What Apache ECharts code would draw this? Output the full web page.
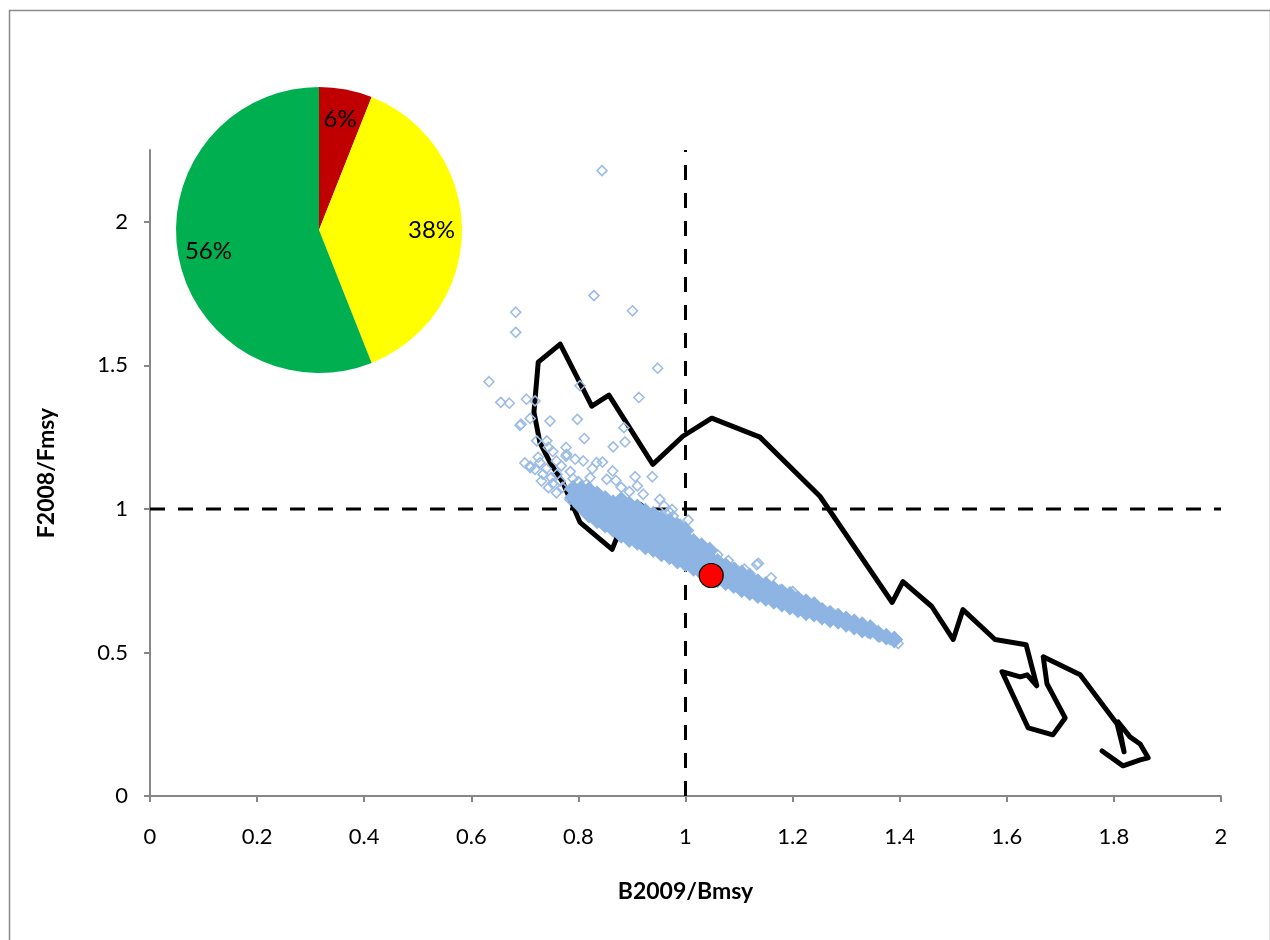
<!DOCTYPE html>
<html><head><meta charset="utf-8">
<script src="https://cdn.jsdelivr.net/npm/echarts@6/dist/echarts.min.js"></script>
<style>html,body{margin:0;padding:0;background:#fff}#c{width:1270px;height:940px}</style>
</head><body><div id="c"></div>
<script>
// ---- data ----
const yTickValues = [0, 0.5, 1, 1.5, 2];
const refLineH = [[0, 1], [2, 1]];
const refLineV = [[1, 0], [1, 2.25]];
const trajectory = [
  [1.778,0.157],[1.817,0.105],[1.849,0.126],[1.864,0.133],[1.849,0.181],[1.830,0.206],
  [1.808,0.258],[1.819,0.154],[1.806,0.251],[1.737,0.422],[1.668,0.485],[1.675,0.391],
  [1.709,0.272],[1.686,0.213],[1.640,0.237],[1.591,0.433],[1.625,0.415],[1.638,0.422],
  [1.656,0.384],[1.636,0.527],[1.578,0.545],[1.518,0.649],[1.500,0.545],[1.460,0.660],
  [1.406,0.747],[1.386,0.674],[1.251,1.044],[1.139,1.250],[1.049,1.316],[0.995,1.253],
  [0.939,1.155],[0.857,1.396],[0.825,1.358],[0.766,1.574],[0.725,1.511],[0.717,1.337],
  [0.728,1.232],[0.747,1.162],[0.771,1.092],[0.803,0.953],[0.863,0.859],[0.872,0.901],
  [0.893,1.005],[0.915,1.016],[0.943,0.974],[0.967,0.949],[1.003,0.887],[1.048,0.768]
];
const currentPoint = [[1.048, 0.768]];
// dense part of the simulation cloud: [x, [y values]]
const cloudCore = [
  [0.790,[1.04,1.07]],
  [0.805,[1.01,1.04,1.07]],
  [0.820,[0.98,1.01,1.04,1.065]],
  [0.835,[0.96,0.99,1.02,1.05]],
  [0.850,[0.945,0.975,1.005,1.035]],
  [0.865,[0.93,0.96,0.99,1.02]],
  [0.880,[0.91,0.94,0.97,1.00,1.03]],
  [0.895,[0.895,0.925,0.955,0.985,1.015]],
  [0.910,[0.885,0.915,0.945,0.975,1.005]],
  [0.925,[0.87,0.90,0.93,0.96,0.99]],
  [0.940,[0.86,0.89,0.92,0.95,0.98]],
  [0.955,[0.845,0.875,0.905,0.935,0.965]],
  [0.970,[0.835,0.865,0.895,0.925,0.955]],
  [0.985,[0.82,0.85,0.88,0.91,0.94]],
  [1.000,[0.81,0.84,0.87,0.90,0.925]],
  [1.015,[0.795,0.825,0.855,0.885]],
  [1.030,[0.78,0.81,0.84,0.87]],
  [1.045,[0.77,0.80,0.83,0.855]],
  [1.060,[0.755,0.785,0.815]],
  [1.075,[0.745,0.775,0.80]],
  [1.090,[0.735,0.76,0.785]],
  [1.105,[0.72,0.75,0.775]],
  [1.120,[0.71,0.735,0.76]],
  [1.135,[0.70,0.725,0.745]],
  [1.150,[0.69,0.715,0.735]],
  [1.165,[0.68,0.70,0.72]],
  [1.180,[0.67,0.69,0.71]],
  [1.195,[0.66,0.68,0.70]],
  [1.210,[0.65,0.67,0.685]],
  [1.225,[0.64,0.66,0.675]],
  [1.240,[0.635,0.65,0.665]],
  [1.255,[0.625,0.645]],
  [1.270,[0.615,0.635]],
  [1.285,[0.61,0.625]],
  [1.300,[0.60,0.615]],
  [1.315,[0.59,0.605]],
  [1.330,[0.58,0.595]],
  [1.345,[0.575,0.585]],
  [1.360,[0.565]],
  [1.375,[0.555]],
  [1.390,[0.545]]
];
// scattered simulation points
const cloudScatter = [
  [0.844,2.178],[0.829,1.743],[0.683,1.685],[0.901,1.690],[0.683,1.615],[0.948,1.490],
  [0.633,1.443],[0.655,1.371],[0.671,1.368],[0.703,1.382],[0.719,1.376],[0.803,1.429],
  [0.913,1.388],[0.693,1.295],[0.710,1.315],[0.747,1.306],[0.798,1.312],[0.885,1.283],
  [0.887,1.233],[0.722,1.237],[0.741,1.237],[0.811,1.245],[0.865,1.216],[0.777,1.214],
  [0.778,1.190],[0.710,1.149],[0.719,1.138],[0.728,1.161],[0.734,1.120],[0.731,1.097],
  [0.744,1.074],[0.749,1.109],[0.759,1.167],[0.794,1.173],[0.809,1.167],[0.834,1.161],
  [0.845,1.163],[0.906,1.112],[0.938,1.112],[0.864,1.132],[0.853,1.103],[0.870,1.099],
  [0.921,1.051],[1.005,0.961],[0.990,0.946],[1.024,0.876],[1.046,0.859],[1.080,0.820],
  [0.822,1.109],[0.766,1.097],[0.691,1.291],[0.744,1.214],[0.777,1.184],[0.710,1.144],
  [1.133,0.806],[1.092,0.795],[1.120,0.775],[1.136,0.810],[1.096,0.783],[1.176,0.717],
  [1.046,0.853],[1.021,0.876],[1.341,0.568],[1.363,0.554],[1.382,0.545],[1.397,0.531],
  [1.326,0.583],[1.298,0.597],[1.251,0.642],[0.759,1.056],[0.784,1.033],[0.952,1.033],
  [0.975,0.998],[0.971,0.987],[0.977,0.975],[0.770,1.075],[0.760,1.120],[0.785,1.130],
  [0.800,1.095],[0.815,1.085],[0.895,1.060],[0.960,1.010],[0.740,1.140],[0.752,1.088],
  [0.768,1.150],[0.790,1.105],[0.826,1.140],[0.880,1.075],[0.910,1.080],[0.700,1.160],
  [0.725,1.180],[0.752,1.200],[1.060,0.840],[1.110,0.790],[1.160,0.760],[1.200,0.712]
];
const pieNames = ['red', 'yellow', 'green'];
const pieValues = [6, 38, 56];
const pieColors = ['#C00000', '#FFFF00', '#00B050'];

// ---- build ----
const coreData = [];
cloudCore.forEach(c => c[1].forEach(y => coreData.push([c[0], y])));
const pieData = pieNames.map((n, i) => ({ name: n, value: pieValues[i], itemStyle: { color: pieColors[i] } }));
const pieLabelData = pieNames.map((n, i) => ({ name: n, value: pieValues[i] }));

const FONT = 'Lato';
const chart = echarts.init(document.getElementById('c'), null, { renderer: 'canvas' });
chart.setOption({
  animation: false,
  backgroundColor: '#fff',
  textStyle: { fontFamily: FONT },
  graphic: [{
    type: 'rect', left: 7, top: 8, z: -10,
    shape: { width: 1261, height: 931 },
    style: { fill: 'none', stroke: '#8a8a8a', lineWidth: 1.5 }
  }],
  grid: { left: 150, right: 49, top: 150, bottom: 144, containLabel: false },
  xAxis: {
    type: 'value', min: 0, max: 2, interval: 0.2,
    name: 'B2009/Bmsy', nameLocation: 'middle', nameGap: 84,
    nameTextStyle: { fontFamily: FONT, fontWeight: 'bold', fontSize: 23, color: '#000' },
    axisLine: { show: true, onZero: false, lineStyle: { color: '#868686', width: 2 } },
    axisTick: { show: true, inside: false, length: 6, lineStyle: { color: '#868686', width: 2 } },
    axisLabel: { fontFamily: FONT, fontSize: 22, color: '#000', margin: 30 },
    splitLine: { show: false }
  },
  yAxis: {
    type: 'value', min: 0, max: 2.25,
    name: 'F2008/Fmsy', nameLocation: 'middle', nameGap: 92, nameRotate: 90,
    nameTextStyle: { fontFamily: FONT, fontWeight: 'bold', fontSize: 23, color: '#000' },
    axisLine: { show: true, onZero: false, lineStyle: { color: '#868686', width: 2 } },
    axisTick: { show: true, inside: false, length: 6, customValues: yTickValues, lineStyle: { color: '#868686', width: 2 } },
    axisLabel: { fontFamily: FONT, fontSize: 22, color: '#000', margin: 22, customValues: yTickValues },
    splitLine: { show: false }
  },
  series: [
    { type: 'line', data: refLineH, symbol: 'none', silent: true, z: 1,
      lineStyle: { color: '#000', width: 3, type: [15, 13] } },
    { type: 'line', data: refLineV, symbol: 'none', silent: true, z: 1,
      lineStyle: { color: '#000', width: 3, type: [15, 13] } },
    { type: 'line', data: trajectory, symbol: 'none', silent: true, z: 2,
      lineStyle: { color: '#000', width: 5, join: 'round', cap: 'round' } },
    { type: 'scatter', data: cloudScatter, symbol: 'diamond', symbolSize: 10, z: 3, silent: true,
      itemStyle: { color: 'rgba(0,0,0,0)', borderColor: '#9CBCE6', borderWidth: 1.6, opacity: 1 } },
    { type: 'scatter', data: coreData, symbol: 'diamond', symbolSize: 15, z: 3, silent: true,
      itemStyle: { color: '#8DB4E2', borderColor: '#8DB4E2', borderWidth: 2, opacity: 1 } },
    { type: 'scatter', data: currentPoint, symbol: 'circle', symbolSize: 24, z: 5, silent: true,
      itemStyle: { color: '#FF0000', borderColor: '#000', borderWidth: 1.2, opacity: 1 } },
    { type: 'pie', center: [319, 230], radius: [0, 143], startAngle: 90, clockwise: true,
      data: pieData, label: { show: false }, labelLine: { show: false }, silent: true, z: 6 },
    { type: 'pie', center: [319, 230], radius: [76, 143], startAngle: 90, clockwise: true,
      data: pieLabelData, silent: true, z: 7,
      itemStyle: { color: 'rgba(0,0,0,0)' },
      label: { show: true, position: 'inside', formatter: '{c}%', fontFamily: FONT, fontSize: 24, color: '#000' },
      labelLine: { show: false } }
  ]
});
</script>
</body></html>
